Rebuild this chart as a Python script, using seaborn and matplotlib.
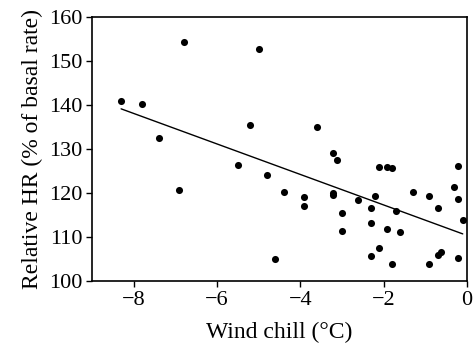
import numpy as np
import pandas as pd
import seaborn as sns
import matplotlib.pyplot as plt

sns.set_style('ticks')
plt.rcParams['font.family'] = ['Liberation Serif', 'DejaVu Serif']

# wind chill (deg C) and relative heart rate (% of basal rate)
wind_chill = [-8.30, -7.80, -6.80, -5.00, -7.40, -5.20, -5.50, -4.80, -3.60, -3.21,
              -3.11, -2.10, -1.91, -1.80, -0.21, -6.91, -4.60, -4.40, -3.90, -3.90,
              -3.21, -3.21, -3.00, -3.00, -2.61, -2.30, -2.30, -2.30, -2.21, -2.10,
              -1.91, -1.80, -1.71, -1.61, -1.30, -0.90, -0.90, -0.70, -0.70, -0.61,
              -0.31, -0.21, -0.21, -0.10]
rel_hr = [140.9, 140.2, 154.4, 152.7, 132.4, 135.4, 126.4, 124.1, 135.0, 129.2,
          127.4, 126.0, 125.8, 125.6, 126.2, 120.7, 105.1, 120.2, 119.1, 117.0,
          119.9, 119.5, 115.5, 111.4, 118.3, 116.7, 113.1, 105.7, 119.3, 107.6,
          111.7, 103.9, 116.0, 111.2, 120.2, 119.3, 103.9, 116.7, 105.9, 106.5,
          121.4, 118.6, 105.2, 113.9]

df = pd.DataFrame({'wind_chill': wind_chill, 'rel_hr': rel_hr})

fig, ax = plt.subplots(figsize=(4.74, 3.49), dpi=100)
fig.subplots_adjust(left=0.194, right=0.985, bottom=0.195, top=0.951)

sns.regplot(x='wind_chill', y='rel_hr', data=df, ci=None, ax=ax,
            scatter_kws={'s': 26, 'color': 'black', 'alpha': 1, 'linewidths': 0},
            line_kws={'color': 'black', 'linewidth': 1})

ax.set_xlim(-9, 0)
ax.set_ylim(100, 160)
ax.set_xticks([-8, -6, -4, -2, 0])
ax.set_xticklabels(['\u22128', '\u22126', '\u22124', '\u22122', '0'])
ax.set_yticks(range(100, 161, 10))
ax.tick_params(labelsize=16, length=4, width=1, pad=3, color='black', labelcolor='black')
ax.set_xlabel('Wind chill (\u00b0C)', fontsize=17, color='black', labelpad=9)
ax.set_ylabel('Relative HR (% of basal rate)', fontsize=17, color='black', labelpad=4)
for sp in ax.spines.values():
    sp.set_color('black')
    sp.set_linewidth(1.2)

fig.savefig('out.png', dpi=100)
